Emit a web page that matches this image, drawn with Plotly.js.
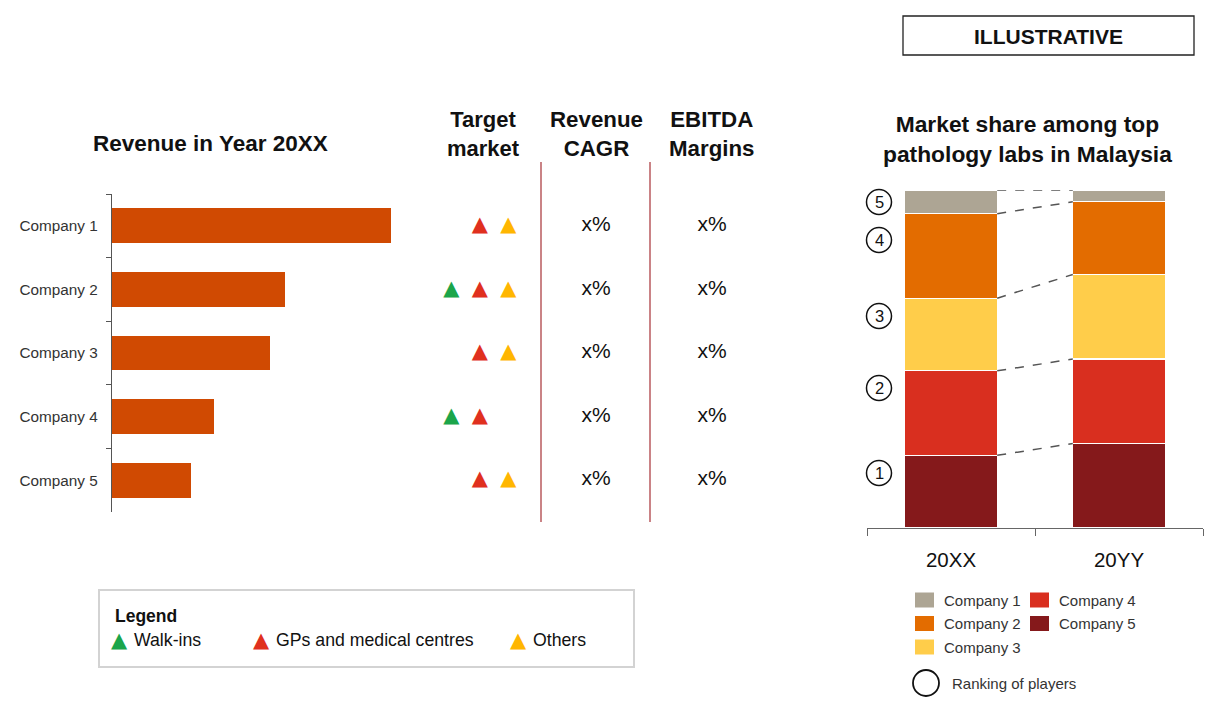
<!DOCTYPE html>
<html>
<head>
<meta charset="utf-8">
<script src="https://cdn.plot.ly/plotly-3.0.1.min.js"></script>
<style>html,body{margin:0;padding:0;background:#fff;}#chart{width:1208px;height:716px;}</style>
</head>
<body>
<div id="chart"></div>
<script>
// ---------------- DATA ----------------
const companies = ["Company 1", "Company 2", "Company 3", "Company 4", "Company 5"];
const revenue = [27.9, 17.3, 15.8, 10.2, 7.9];           // revenue in year 20XX (relative)
const walkIns = [0, 1, 0, 1, 0];                           // target market flags
const gpsMedical = [1, 1, 1, 1, 1];
const othersMarket = [1, 1, 1, 0, 1];
const revenueCagr = ["x%", "x%", "x%", "x%", "x%"];
const ebitdaMargins = ["x%", "x%", "x%", "x%", "x%"];
const marketNames = ["Walk-ins", "GPs and medical centres", "Others"];
const years = ["20XX", "20YY"];
const share20XX = [7, 25, 21.5, 25, 21.5];                 // Company 1..5, %
const share20YY = [3.5, 21.5, 25, 25, 25];
const rankings = ["1", "2", "3", "4", "5"];

// ---------------- STYLE ----------------
const W = 1208, H = 716;
const X = v => v / W;
const Y = v => 1 - v / H;
const barColor = "#D04A02";
const marketColors = ["#1BA54A", "#E0301E", "#FFB600"];
const shareColors = ["#ADA594", "#E36C00", "#FFCD4A", "#D92F1F", "#85191B"];
const AR = "Liberation Sans, Arial, sans-serif";
const TRI = "DejaVu Sans, sans-serif";

const traces = [];

// Left revenue bars
traces.push({
  type: "bar", orientation: "h", x: revenue, y: companies,
  xaxis: "x", yaxis: "y", width: 0.55,
  marker: {color: barColor}, hoverinfo: "x+y", showlegend: false
});

// Target market triangles
const flags = [walkIns, gpsMedical, othersMarket];
flags.forEach((arr, m) => {
  const ys = [], xs = [];
  arr.forEach((f, i) => { if (f) { ys.push(companies[i]); xs.push(m); } });
  traces.push({
    type: "scatter", mode: "text", x: xs, y: ys, xaxis: "x2", yaxis: "y",
    text: xs.map(() => "▲"), textposition: "middle center",
    textfont: {family: TRI, size: 21, color: marketColors[m]},
    name: marketNames[m], showlegend: false, hoverinfo: "name+y"
  });
});

// x% columns
[revenueCagr, ebitdaMargins].forEach((arr, c) => {
  traces.push({
    type: "scatter", mode: "text", x: arr.map(() => c), y: companies,
    xaxis: "x3", yaxis: "y", text: arr, textposition: "middle center",
    textfont: {family: AR, size: 21, color: "#111"},
    showlegend: false, hoverinfo: "skip"
  });
});

// Stacked market share (bottom = Company 5)
for (let i = companies.length - 1; i >= 0; i--) {
  traces.push({
    type: "bar", x: years, y: [share20XX[i], share20YY[i]],
    xaxis: "x4", yaxis: "y4", width: 0.55, name: companies[i],
    marker: {color: shareColors[i], line: {color: "#ffffff", width: 1.2}},
    showlegend: false
  });
}

const shapes = [];
const annotations = [];
const ann = (x, y, t, font, xanchor) => annotations.push({xref: "paper", yref: "paper", x: X(x), y: Y(y),
  text: t, showarrow: false, xanchor: xanchor || "center", yanchor: "middle", align: xanchor || "center",
  font: font});

// dashed connectors between stacks
let cumA = 0, cumB = 0;
for (let i = companies.length - 1; i >= 0; i--) {
  cumA += share20XX[i]; cumB += share20YY[i];
  shapes.push({type: "line", xref: "x4", yref: "y4", x0: 0.275, x1: 0.725, y0: cumA, y1: cumB,
    line: {color: "#555", width: 1.5, dash: "dash"}});
}

// column separators
[541, 650].forEach(xp => shapes.push({type: "line", xref: "paper", yref: "paper",
  x0: X(xp), x1: X(xp), y0: Y(162), y1: Y(522), line: {color: "#B85A5E", width: 1.5}}));

// ILLUSTRATIVE box
shapes.push({type: "rect", xref: "paper", yref: "paper", x0: X(903), x1: X(1194), y0: Y(16), y1: Y(55),
  line: {color: "#222", width: 1.3}});
ann(1048, 36.5, "<b>ILLUSTRATIVE</b>", {family: AR, size: 21, color: "#111"});

// Titles
const tf = s => ({family: AR, size: s, color: "#111"});
ann(210, 143, "<b>Revenue in Year 20XX</b>", tf(22.5));
ann(483, 134, "<b>Target</b><br><b>market</b>", tf(22));
ann(596, 134, "<b>Revenue</b><br><b>CAGR</b>", tf(22.3));
ann(712, 134, "<b>EBITDA</b><br><b>Margins</b>", tf(22.3));
ann(1027, 139, "<b>Market share among top</b><br><b>pathology labs in Malaysia</b>", tf(22.8));

// ranking circles
const rankY = [473, 388, 316, 240, 202];
rankings.forEach((r, i) => {
  shapes.push({type: "circle", xref: "paper", yref: "paper", x0: X(879 - 12.5), x1: X(879 + 12.5),
    y0: Y(rankY[i] + 12.5), y1: Y(rankY[i] - 12.5), line: {color: "#111", width: 1.5}});
  ann(879, rankY[i], r, {family: AR, size: 16.5, color: "#111"});
});

// Left legend box
shapes.push({type: "rect", xref: "paper", yref: "paper", x0: X(99), x1: X(634), y0: Y(590), y1: Y(667),
  line: {color: "#D3D3D3", width: 2}});
ann(113, 616, "<b>Legend</b>", tf(17.5), "left");
const legTriX = [119, 261, 518];
marketNames.forEach((n, m) => {
  ann(legTriX[m], 640, "▲", {family: TRI, size: 21, color: marketColors[m]});
  ann(legTriX[m] + 13, 640, n, tf(17.7), "left");
});

// Right legend
const legPos = [[915, 600], [915, 623.5], [915, 647], [1030, 600], [1030, 623.5]];
companies.forEach((c, i) => {
  const [lx, ly] = legPos[i];
  shapes.push({type: "rect", xref: "paper", yref: "paper", x0: X(lx), x1: X(lx + 19), y0: Y(ly + 7.5), y1: Y(ly - 7.5),
    fillcolor: shareColors[i], line: {width: 0}});
  ann(lx + 27, ly, c, {family: AR, size: 15, color: "#333"}, "left");
});
shapes.push({type: "circle", xref: "paper", yref: "paper", x0: X(913), x1: X(939), y0: Y(696), y1: Y(670),
  line: {color: "#111", width: 1.8}});
ann(950, 683, "Ranking of players", {family: AR, size: 15, color: "#333"}, "left");

const layout = {
  width: W, height: H, margin: {l: 0, r: 0, t: 0, b: 0},
  paper_bgcolor: "#fff", plot_bgcolor: "rgba(0,0,0,0)",
  barmode: "stack", showlegend: false,
  xaxis: {domain: [X(112), X(412)], range: [0, 30], visible: false, fixedrange: true},
  yaxis: {domain: [Y(512), Y(194)], type: "category", categoryorder: "array", categoryarray: companies,
    range: [4.5, -0.5], showline: true, linecolor: "#555", linewidth: 1.2, ticks: "outside", tickson: "boundaries",
    ticklen: 5, tickcolor: "#555", showgrid: false, zeroline: false,
    tickfont: {family: AR, size: 15.3, color: "#333"}, ticklabelstandoff: 10},
  xaxis2: {domain: [X(437), X(522.5)], range: [-0.5, 2.5], visible: false, anchor: "y"},
  xaxis3: {domain: [X(538), X(770)], range: [-0.5, 1.5], visible: false, anchor: "y"},
  xaxis4: {domain: [X(867), X(1203)], anchor: "y4", type: "category", categoryarray: years,
    showline: true, linecolor: "#666", linewidth: 1.2, ticks: "outside", tickson: "boundaries", ticklen: 7,
    tickcolor: "#666", showgrid: false, tickfont: {family: AR, size: 20.5, color: "#111"}, ticklabelstandoff: 13},
  yaxis4: {domain: [Y(528), Y(190)], anchor: "x4", range: [0, 100], visible: false},
  shapes: shapes, annotations: annotations
};

Plotly.newPlot("chart", traces, layout, {displayModeBar: false, staticPlot: true});
</script>
</body>
</html>
